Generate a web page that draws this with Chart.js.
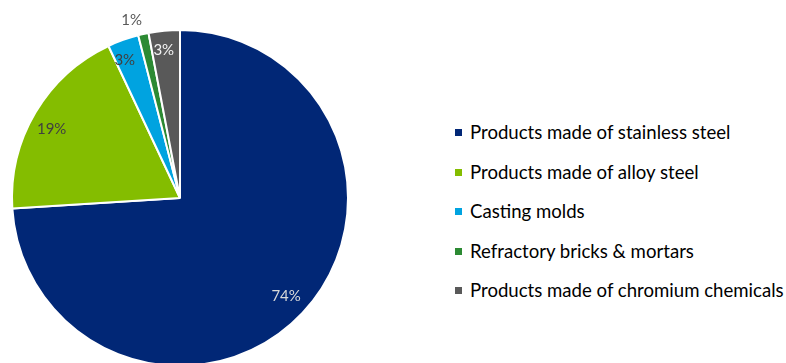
<!DOCTYPE html>
<html>
<head>
<meta charset="utf-8">
<script src="https://cdn.jsdelivr.net/npm/chart.js@4/dist/chart.umd.min.js"></script>
<style>
    html, body { margin: 0; padding: 0; background: #fff; }
    #wrap { position: relative; width: 786px; height: 363px; overflow: hidden; }
    #pie { position: absolute; left: 0; top: 0; }
    #legend { position: absolute; left: 455px; top: 118px; margin: 0; padding: 0; list-style: none;
              font-family: 'Lato', 'Open Sans', sans-serif; font-size: 18.6px; color: #000; }
    #legend li { height: 39.5px; line-height: 28px; white-space: nowrap; }
    #legend span { display: inline-block; width: 7px; height: 7px; margin-right: 8px; vertical-align: 3px; }
</style>
</head>
<body>
<div id="wrap">
    <canvas id="pie" width="360" height="400"></canvas>
    <ul id="legend"></ul>
</div>
<script>

const categories = [
    'Products made of stainless steel',
    'Products made of alloy steel',
    'Casting molds',
    'Refractory bricks & mortars',
    'Products made of chromium chemicals'
];
const shares = [74, 19, 3, 1, 3];
const shareLabels = ['74%', '19%', '3%', '1%', '3%'];

const colors = ['#012776', '#84bd00', '#00a3e0', '#2c8a33', '#595959'];
const labelColors = ['#d9d9d9', '#404040', '#404040', '#595959', '#f2f2f2'];
// label distance from the centre (fraction of radius) plus a small nudge in px
const labelRadius = [0.85, 0.86, 0.9, 1.1, 0.9];
const labelShift = [[2, 0], [-4, 5], [-4, 4], [-8, 3], [-2, 3]];

const sliceLabels = {
    id: 'sliceLabels',
    afterDatasetsDraw(chart) {
        const ctx = chart.ctx;
        const meta = chart.getDatasetMeta(0);
        ctx.save();
        ctx.font = '15px Lato, "Open Sans", sans-serif';
        ctx.textAlign = 'center';
        ctx.textBaseline = 'middle';
        meta.data.forEach(function (arc, i) {
            const p = arc.getProps(['x', 'y', 'startAngle', 'endAngle', 'outerRadius'], true);
            const mid = (p.startAngle + p.endAngle) / 2;
            const r = p.outerRadius * labelRadius[i];
            ctx.fillStyle = labelColors[i];
            ctx.fillText(shareLabels[i],
                p.x + Math.cos(mid) * r + labelShift[i][0],
                p.y + Math.sin(mid) * r + labelShift[i][1]);
        });
        ctx.restore();
    }
};

pieChart();
legend();

function pieChart() {

    const ctx = document.getElementById('pie');

    new Chart(ctx, {
        type: 'pie',
        data: {
            labels: categories,
            datasets: [{
                data: shares,
                backgroundColor: colors,
                borderColor: '#ffffff',
                borderWidth: 2
            }]
        },
        options: {
            responsive: false,
            animation: false,
            layout: {
                padding: { left: 11, right: 11, top: 28, bottom: 32 }
            },
            plugins: {
                legend: { display: false },
                tooltip: { enabled: false }
            }
        },
        plugins: [sliceLabels]
    });

}

function legend() {
    const list = document.getElementById('legend');
    categories.forEach(function (name, i) {
        const li = document.createElement('li');
        const box = document.createElement('span');
        box.style.background = colors[i];
        li.appendChild(box);
        li.appendChild(document.createTextNode(name));
        list.appendChild(li);
    });
}

</script>
</body>
</html>
